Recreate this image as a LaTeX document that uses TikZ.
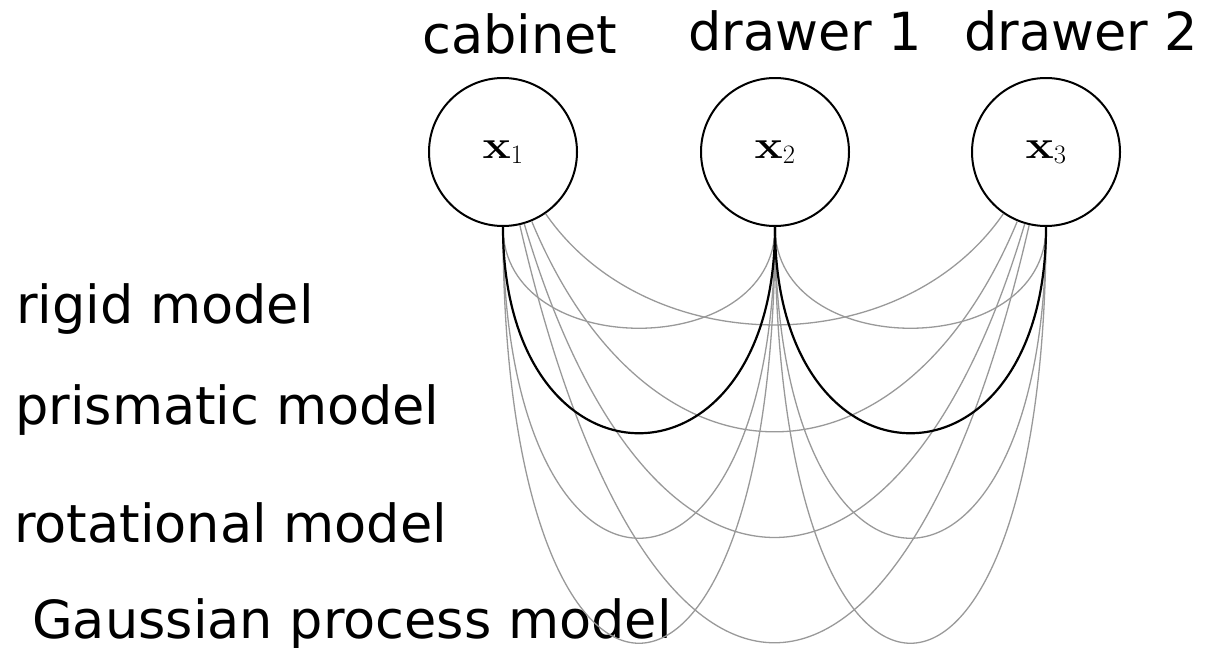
\RequirePackage{fix-cm}
\documentclass[tikz,border=0pt]{standalone}
\usepackage[no-math]{fontspec}
\setmainfont{DejaVu Sans}
\usepackage{graphicx}
\begin{document}
\begin{tikzpicture}[x=1pt,y=-1pt,
  state/.style={circle,draw,line width=2pt,minimum size=148pt,inner sep=0pt,font=\fontsize{38}{44}\selectfont},
  lbl/.style={anchor=base west,inner sep=0pt,font=\fontsize{52.5}{60}\selectfont},
  edge/.style={draw=black!40,line width=1.3pt},
  chosen/.style={draw=black,line width=2.2pt}]
\useasboundingbox (0,0) rectangle (1205,648);

\node[state] (x1) at (503,152) {\scalebox{1.25}[1.05]{$\mathbf{x}$}$_{1}$};
\node[state] (x2) at (775,152) {\scalebox{1.25}[1.05]{$\mathbf{x}$}$_{2}$};
\node[state] (x3) at (1046,152) {\scalebox{1.25}[1.05]{$\mathbf{x}$}$_{3}$};

\node[lbl] (tcab) at (422,53) {cabinet};
\node[lbl] (td1) at (688,50) {drawer 1};
\node[lbl] (td2) at (964,50) {drawer 2};

\node[lbl] (lrig) at (16,323) {rigid model};
\node[lbl] (lpri) at (15,424) {prismatic model};
\node[lbl] (lrot) at (14,542) {rotational model};
\node[lbl] (lgp) at (32,638) {Gaussian process model};

\foreach \Y in {362,502,642,782} {
  \draw[edge] (x1) .. controls (648,\Y) and (901,\Y) .. (x3);
}
\foreach \Y in {362,642,782} {
  \draw[edge] (x1) .. controls (503,\Y) and (775,\Y) .. (x2);
  \draw[edge] (x2) .. controls (775,\Y) and (1046,\Y) .. (x3);
}
\draw[chosen] (x1) .. controls (503,502) and (775,502) .. (x2);
\draw[chosen] (x2) .. controls (775,502) and (1046,502) .. (x3);
\end{tikzpicture}
\end{document}
